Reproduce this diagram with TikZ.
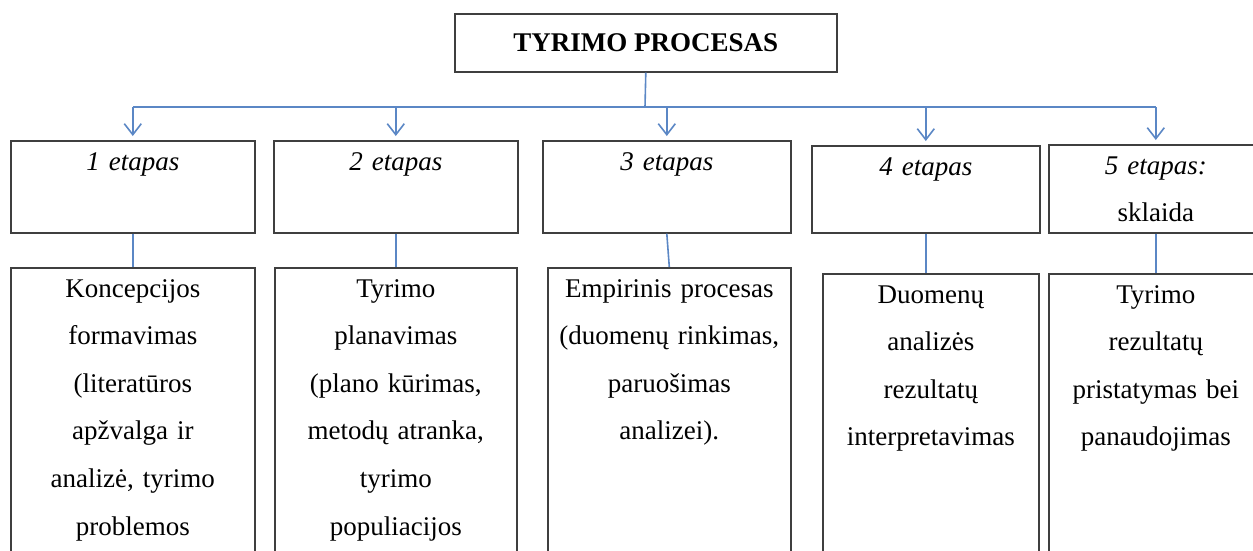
\documentclass[tikz,border=0pt]{standalone}
\usepackage{fontspec}
\setmainfont{Liberation Serif}
\usetikzlibrary{arrows.meta}

\definecolor{linkblue}{HTML}{5B87C5}
\definecolor{boxgray}{HTML}{3F3F3F}

\tikzset{
	etbox/.style={draw=boxgray, line width=1.6pt, rectangle, inner sep=0pt, anchor=north west},
	ettext/.style={anchor=base, align=center, text width=236pt, inner sep=0pt,
		font=\fontsize{27}{47.6}\selectfont},
	link/.style={draw=linkblue, line width=1.6pt},
	linkarrow/.style={link, -{Straight Barb[length=11pt, width=17pt, line width=1.6pt]}, shorten >=4pt}
}

\begin{document}
\begin{tikzpicture}[x=1pt, y=-1pt]
	
	%--- Rėmas ---
	\useasboundingbox (0,0) rectangle (1253,551);
	\clip (0,0) rectangle (1253,551);
	
	%--- Pavadinimas ---
	\node[etbox, minimum width=382pt, minimum height=58pt,
		font=\fontsize{27}{32}\selectfont\bfseries] (title) at (454,13) {TYRIMO PROCESAS};
	
	%--- Etapai ---
	\node[etbox, minimum width=244pt, minimum height=92pt] (st1) at (10,140) {};
	\node[etbox, minimum width=244pt, minimum height=92pt] (st2) at (273,140) {};
	\node[etbox, minimum width=248pt, minimum height=92pt] (st3) at (542,140) {};
	\node[etbox, minimum width=228pt, minimum height=87pt] (st4) at (811,145) {};
	\node[etbox, minimum width=214pt, minimum height=88pt] (st5) at (1048,144) {};
	
	\node[ettext] (st1t) at ([yshift=-30pt]st1.north) {\textit{1 etapas}};
	\node[ettext] (st2t) at ([yshift=-30pt]st2.north) {\textit{2 etapas}};
	\node[ettext] (st3t) at ([yshift=-30pt]st3.north) {\textit{3 etapas}};
	\node[ettext] (st4t) at ([yshift=-30pt]st4.north) {\textit{4 etapas}};
	\node[ettext] (st5t) at ([yshift=-30pt]st5.north) {\textit{5 etapas:}\\sklaida};
	
	%--- Aprašai ---
	\node[etbox, minimum width=244pt, minimum height=300pt] (ds1) at (10,267) {};
	\node[etbox, minimum width=242pt, minimum height=300pt] (ds2) at (274,267) {};
	\node[etbox, minimum width=243pt, minimum height=300pt] (ds3) at (547,267) {};
	\node[etbox, minimum width=216pt, minimum height=300pt] (ds4) at (822,273) {};
	\node[etbox, minimum width=214pt, minimum height=300pt] (ds5) at (1048,273) {};
	
	\node[ettext] (ds1t) at ([yshift=-30pt]ds1.north)
		{Koncepcijos\\formavimas\\(literatūros\\apžvalga ir\\analizė, tyrimo\\problemos};
	\node[ettext] (ds2t) at ([yshift=-30pt]ds2.north)
		{Tyrimo\\planavimas\\(plano kūrimas,\\metodų atranka,\\tyrimo\\populiacijos};
	\node[ettext] (ds3t) at ([yshift=-30pt]ds3.north)
		{Empirinis procesas\\(duomenų rinkimas,\\paruošimas\\analizei).};
	\node[ettext] (ds4t) at ([yshift=-30pt]ds4.north)
		{Duomenų\\analizės\\rezultatų\\interpretavimas};
	\node[ettext] (ds5t) at ([yshift=-30pt]ds5.north)
		{Tyrimo\\rezultatų\\pristatymas bei\\panaudojimas};
	
	%--- Jungtys ---
	\coordinate (bus) at (645,107);
	\draw[link] (title.south) -- (bus);
	\draw[link] (st1.north |- bus) -- (st5.north |- bus);
	\foreach \s in {st1,st2,st3,st4,st5} {
		\draw[linkarrow] (\s.north |- bus) -- (\s.north); % rodyklė į etapą
	}
	\foreach \i in {1,2,4,5} {
		\draw[link] (st\i.south) -- (st\i.south |- ds\i.north);
	}
	\draw[link] (st3.south) -- (ds3.north);
	
\end{tikzpicture}
\end{document}
